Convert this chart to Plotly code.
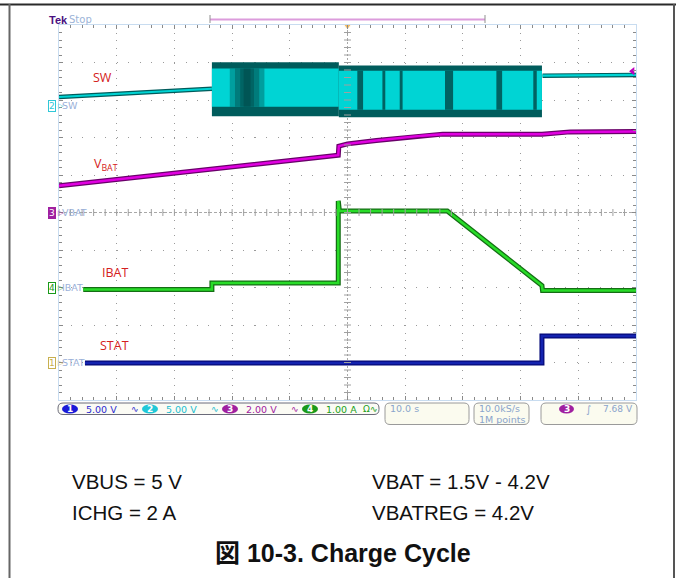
import numpy as np
import plotly.graph_objects as go

# ---------------- data (time in s, amplitude in divisions) ----------------
sw_line_t = [0.0, 26.5]
sw_line_v = [3.08, 3.30]
sw_tail_t = [83.8, 100.0]
sw_tail_v = [3.65, 3.67]
sw_band_t = [26.5, 48.5, 83.7]          # switching segments (start/end)
sw_band_top = [4.01, 3.92]
sw_band_bot = [2.57, 2.54]
sw_band_in_top = [3.84, 3.78]
sw_band_in_bot = [2.82, 2.74]
sw_stripe_t = [52.2, 56.3, 59.3, 67.6, 76.3, 82.5]
sw_stripe_w = [1.0, 0.5, 0.5, 1.4, 1.0, 0.6]
sw_dark_t = [32.6]
sw_dark_w = [6.0]

vbat_t = [0.0, 26.5, 48.4, 48.5, 50.0, 55.0, 59.0, 63.0, 66.5, 83.7, 88.6, 100.0]
vbat_v = [0.71, 1.16, 1.53, 1.77, 1.83, 1.92, 1.99, 2.05, 2.09, 2.09, 2.15, 2.16]

ibat_t = [4.2, 26.5, 26.5, 48.4, 48.4, 48.6, 67.3, 83.7, 83.8, 100.0]
ibat_v = [-2.05, -2.05, -1.88, -1.88, 0.31, 0.04, 0.04, -1.95, -2.08, -2.08]

stat_t = [4.5, 83.7, 83.7, 100.0]
stat_v = [-4.01, -4.01, -3.29, -3.29]

ch_labels = ["SW", "V<sub>BAT</sub>", "IBAT", "STAT"]
gnd_names = ["SW", "VBAT", "IBAT", "STAT"]
gnd_nums = ["2", "3", "4", "1"]
gnd_levels = [2.85, 0.0, -2.0, -4.0]
scales = ["5.00 V", "5.00 V", "2.00 V", "1.00 A"]
notes_left = ["VBUS = 5 V", "ICHG = 2 A"]
notes_right = ["VBAT = 1.5V - 4.2V", "VBATREG = 4.2V"]
title_text = "図 10-3. Charge Cycle"

# ---------------- geometry helpers ----------------
W, H = 676, 578
L, R, T, B = 59, 636, 25, 400


def px(x):
    return (x - L) / (R - L)


def py(y):
    return (B - y) / (B - T)


fig = go.Figure()

CYAN = "rgb(0,212,212)"
TEAL = "rgb(0,92,92)"
DTEAL = "rgb(0,60,60)"


def poly(x0, x1, y0, y1, color, opacity=1.0):
    fig.add_trace(go.Scatter(x=[x0, x1, x1, x0, x0], y=[y0, y0, y1, y1, y0],
                             mode="lines", fill="toself", fillcolor=color,
                             line=dict(width=0), opacity=opacity,
                             hoverinfo="skip", showlegend=False))


# SW switching band
for i in range(2):
    poly(sw_band_t[i], sw_band_t[i + 1], sw_band_top[i], sw_band_bot[i], TEAL)
    poly(sw_band_t[i], sw_band_t[i + 1], sw_band_in_top[i], sw_band_in_bot[i], CYAN)
for c, w in zip(sw_dark_t, sw_dark_w):
    for f in [1.0, 0.7, 0.4, 0.2]:
        poly(c - w * f / 2, c + w * f / 2, sw_band_in_top[0], sw_band_in_bot[0],
             DTEAL, 0.35)
for c, w in zip(sw_stripe_t, sw_stripe_w):
    poly(c - w / 2, c + w / 2, sw_band_in_top[1], sw_band_in_bot[1], DTEAL, 0.75)


def trace(t, v, dark, bright, wd, wb):
    fig.add_trace(go.Scatter(x=t, y=v, mode="lines", line=dict(color=dark, width=wd),
                             hoverinfo="skip", showlegend=False))
    fig.add_trace(go.Scatter(x=t, y=v, mode="lines", line=dict(color=bright, width=wb),
                             hoverinfo="skip", showlegend=False))


trace(sw_line_t, sw_line_v, TEAL, CYAN, 4.5, 2.2)
trace(sw_tail_t, sw_tail_v, TEAL, CYAN, 4.5, 2.2)
trace(vbat_t, vbat_v, "rgb(105,0,105)", "rgb(225,0,225)", 5, 2.5)
trace(ibat_t, ibat_v, "rgb(20,110,20)", "rgb(40,220,40)", 5, 2.5)
trace(stat_t, stat_v, "rgb(5,10,120)", "rgb(20,35,175)", 5, 2.5)

# centre crosshair ticks
xt = np.arange(0, 100.01, 2)
yt = np.arange(-5, 5.001, 0.2)
fig.add_trace(go.Scatter(x=xt, y=np.zeros_like(xt), mode="markers",
                         marker=dict(symbol="line-ns", size=5, line=dict(width=1, color="#a0a0a0")),
                         hoverinfo="skip", showlegend=False))
fig.add_trace(go.Scatter(x=np.full_like(yt, 50.0), y=yt, mode="markers",
                         marker=dict(symbol="line-ew", size=5, line=dict(width=1, color="#a0a0a0")),
                         hoverinfo="skip", showlegend=False))
# trigger markers
fig.add_trace(go.Scatter(x=[50, 50], y=[5.24, 4.97], mode="markers",
                         marker=dict(symbol="triangle-down", size=[5, 7], color="#f0a020"),
                         cliponaxis=False, hoverinfo="skip", showlegend=False))
fig.add_trace(go.Scatter(x=[99.4], y=[3.77], mode="markers",
                         marker=dict(symbol="triangle-left", size=7, color="#c000c0"),
                         cliponaxis=False, hoverinfo="skip", showlegend=False))

shapes = []
# crosshair lines
shapes.append(dict(type="line", xref="x", yref="y", x0=50, x1=50, y0=-5, y1=5,
                   line=dict(color="#a8a8a8", width=1, dash="2px,2px"), layer="below"))
shapes.append(dict(type="line", xref="x", yref="y", x0=0, x1=100, y0=0, y1=0,
                   line=dict(color="#a8a8a8", width=1, dash="3px,2px"), layer="below"))
# page frame
shapes.append(dict(type="line", xref="paper", yref="paper", x0=px(0), x1=px(676),
                   y0=py(4.5), y1=py(4.5), line=dict(color="#2a2a2a", width=2)))
shapes.append(dict(type="line", xref="paper", yref="paper", x0=px(9.5), x1=px(9.5),
                   y0=py(4), y1=py(580), line=dict(color="#666666", width=2)))
shapes.append(dict(type="line", xref="paper", yref="paper", x0=px(674), x1=px(674),
                   y0=py(4), y1=py(580), line=dict(color="#555555", width=2)))
# record view bar
shapes.append(dict(type="line", xref="paper", yref="paper", x0=px(210), x1=px(485),
                   y0=py(19.5), y1=py(19.5), line=dict(color="#dc9cdc", width=2)))
for xx in (210, 485):
    shapes.append(dict(type="line", xref="paper", yref="paper", x0=px(xx), x1=px(xx),
                       y0=py(15), y1=py(23), line=dict(color="#909090", width=1)))


def rrect(x0, y0, x1, y1, r, fill, border):
    sx, sy = 1.0 / (R - L), 1.0 / (B - T)
    X = lambda v: (v - L) * sx
    Y = lambda v: (B - v) * sy
    p = (f"M {X(x0 + r)},{Y(y0)} L {X(x1 - r)},{Y(y0)} Q {X(x1)},{Y(y0)} {X(x1)},{Y(y0 + r)} "
         f"L {X(x1)},{Y(y1 - r)} Q {X(x1)},{Y(y1)} {X(x1 - r)},{Y(y1)} "
         f"L {X(x0 + r)},{Y(y1)} Q {X(x0)},{Y(y1)} {X(x0)},{Y(y1 - r)} "
         f"L {X(x0)},{Y(y0 + r)} Q {X(x0)},{Y(y0)} {X(x0 + r)},{Y(y0)} Z")
    shapes.append(dict(type="path", xref="paper", yref="paper", path=p,
                       fillcolor=fill, line=dict(color=border, width=1)))


rrect(58, 403, 379, 414.5, 5, "#fbfbf4", "#6a6a78")
rrect(385, 403, 469, 424.5, 5, "#fbfbef", "#9a9a9a")
rrect(474, 403, 529, 424.5, 5, "#fbfbef", "#9a9a9a")
rrect(541, 403, 637, 424.5, 5, "#fbfbef", "#9a9a9a")

annotations = []


def txt(x, y, s, size, color, family="DejaVu Sans", anchor="left", bold=False, **kw):
    if bold:
        s = "<b>" + s + "</b>"
    annotations.append(dict(x=px(x), y=py(y), xref="paper", yref="paper", text=s,
                            showarrow=False, xanchor=anchor, yanchor="middle",
                            font=dict(size=size, color=color, family=family), **kw))


# badges in status bar
badge_cols = ["#1a1ad8", "#20c8d8", "#a020a0", "#1a9a1a"]
badge_x = [70, 150, 230, 310]
text_cols = ["#2a2ad0", "#20bcd0", "#a020a0", "#20a020"]
for i in range(4):
    cx = badge_x[i]
    shapes.append(dict(type="circle", xref="paper", yref="paper", x0=px(cx - 8), x1=px(cx + 8),
                       y0=py(404.5), y1=py(413.5), fillcolor=badge_cols[i], line=dict(width=0)))
    txt(cx, 409.3, "<b>" + str(i + 1) + "</b>", 9, "white", anchor="center")
    txt(cx + 14, 409.3, scales[i], 9.5, text_cols[i])
    if i < 3:
        txt(cx + 59, 409.3, "∿", 9, text_cols[i])
txt(361, 409.3, "Ω∿", 9, "#20a020")
txt(388, 408.5, "10.0 s", 9.5, "#8aa4cc")
txt(477, 408.5, "10.0kS/s", 9.5, "#8aa4cc")
txt(477, 419, "1M points", 9.5, "#8aa4cc")
shapes.append(dict(type="circle", xref="paper", yref="paper", x0=px(559), x1=px(574),
                   y0=py(404.5), y1=py(413.5), fillcolor="#a020a0", line=dict(width=0)))
txt(566.5, 409.3, "<b>3</b>", 9, "white", anchor="center")
txt(584, 409, "∫", 10, "#8aa4cc")
txt(601, 408.5, "7.68 V", 9, "#8aa4cc")

# Tek Stop
txt(47, 19.5, "Tek", 11, "#4a1080", bold=True, family="Liberation Sans")
txt(66.5, 19.5, "Stop", 10, "#9cb4d8")

# ground markers
gnd_cols = ["#30c8d8", "#a020a0", "#1a9a1a", "#c8b050"]
for i in range(4):
    ypix = 212.5 - gnd_levels[i] * 37.5
    filled = (i == 1)
    annotations.append(dict(x=px(51.5), y=py(ypix), xref="paper", yref="paper",
                            text=gnd_nums[i], showarrow=False, xanchor="center", yanchor="middle",
                            font=dict(size=9, color="white" if filled else gnd_cols[i],
                                      family="DejaVu Sans"),
                            bgcolor=gnd_cols[i] if filled else "white",
                            bordercolor=gnd_cols[i], borderwidth=1, borderpad=0))
    txt(55.5, ypix, "▷", 7, gnd_cols[i])
    txt(59.5, ypix, gnd_names[i], 9.5, "#9ab0d8")

# red channel labels
lab_pos = [(91, 77), (92, 165), (100, 272), (98, 345)]
for s, (x, y) in zip(ch_labels, lab_pos):
    txt(x, y, s, 12.5, "#d42020", family="Open Sans")

# notes
txt(70, 482, notes_left[0], 20.5, "#111111", family="Liberation Sans")
txt(70, 512.5, notes_left[1], 20.5, "#111111", family="Liberation Sans")
txt(370, 482, notes_right[0], 20.5, "#111111", family="Liberation Sans")
txt(370, 512.5, notes_right[1], 20.5, "#111111", family="Liberation Sans")
txt(343, 553, title_text, 25, "#111111", anchor="center", bold=True,
    family="Liberation Sans, Noto Sans CJK JP")

fig.update_layout(
    width=W, height=H, autosize=False,
    margin=dict(l=L, r=W - R, t=T, b=H - B, pad=0),
    paper_bgcolor="white", plot_bgcolor="white",
    shapes=shapes, annotations=annotations,
    xaxis=dict(range=[0, 100], dtick=10, tick0=0, showticklabels=False,
               showgrid=True, gridcolor="#9a9a9a", gridwidth=1, griddash="1px,6.5px",
               ticks="inside", ticklen=4, tickcolor="#8a8a8a", tickwidth=1,
               showline=True, linecolor="#c8dcf0", linewidth=1, mirror="allticks",
               zeroline=False, fixedrange=True,
               minor=dict(dtick=2, ticks="inside", ticklen=3, tickcolor="#8a8a8a",
                          showgrid=False)),
    yaxis=dict(range=[-5, 5], dtick=1, tick0=0, showticklabels=False,
               showgrid=True, gridcolor="#9a9a9a", gridwidth=1, griddash="1px,10.5px",
               ticks="inside", ticklen=4, tickcolor="#8a8a8a", tickwidth=1,
               showline=True, linecolor="#c8dcf0", linewidth=1, mirror="allticks",
               zeroline=False, fixedrange=True,
               minor=dict(dtick=0.2, ticks="inside", ticklen=3, tickcolor="#8a8a8a",
                          showgrid=False)),
)

fig.write_html("out.html", config={"displayModeBar": False},
               post_script="document.body.style.margin='0';document.body.style.overflow='hidden';")
